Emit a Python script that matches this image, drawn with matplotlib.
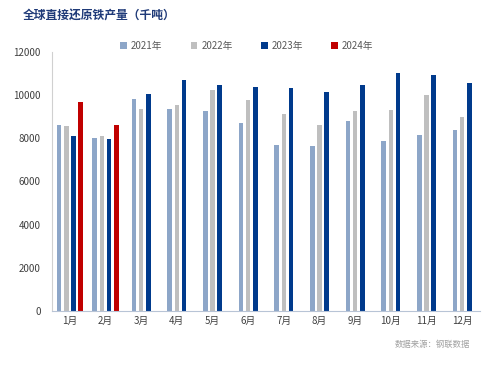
import matplotlib.pyplot as plt
import numpy as np

plt.rcParams['font.family'] = ['Noto Sans CJK SC', 'DejaVu Sans']

# Data (thousand tonnes)
months = ["1月", "2月", "3月", "4月", "5月", "6月", "7月", "8月", "9月", "10月", "11月", "12月"]
years = ["2021年", "2022年", "2023年", "2024年"]
v2021 = [8590, 8000, 9830, 9365, 9255, 8710, 7705, 7640, 8775, 7890, 8140, 8385]
v2022 = [8560, 8125, 9365, 9550, 10230, 9770, 9100, 8590, 9270, 9315, 9985, 8990]
v2023 = [8125, 7970, 10060, 10680, 10450, 10390, 10340, 10140, 10480, 11010, 10915, 10570]
v2024 = [9690, 8590, None, None, None, None, None, None, None, None, None, None]
colors = ["#8DA6C8", "#BFBFBF", "#003A8C", "#C00000"]

series = [v2021, v2022, v2023, v2024]

fig = plt.figure(figsize=(5, 3.65), dpi=100)
ax = fig.add_axes([0.104, 0.148, 0.856, 0.71])

pitch = 0.2
width = 0.13
x = np.arange(len(months))
for i in range(len(months)):
    present = [k for k, s in enumerate(series) if s[i] is not None]
    n = len(present)
    for j, k in enumerate(present):
        off = (j - (n - 1) / 2) * pitch
        ax.bar(x[i] + off, series[k][i], width=width, color=colors[k])

# legend handles
for k, lab in enumerate(years):
    ax.bar([0], [0], width=0, color=colors[k], label=lab)

ax.set_xlim(-0.5, 11.5)
ax.set_ylim(0, 12000)
ax.set_yticks(np.arange(0, 12001, 2000))
ax.set_xticks(x)
ax.set_xticklabels(months)
ax.tick_params(axis='both', length=0, labelsize=7, colors="#404040")
ax.tick_params(axis='y', pad=8)
for side in ["top", "right"]:
    ax.spines[side].set_visible(False)
ax.spines["left"].set_color("#D0D0D0")
ax.spines["bottom"].set_color("#B8C4D6")

leg = ax.legend(loc="upper center", bbox_to_anchor=(0.455, 1.075), ncol=4, frameon=False,
                fontsize=7, handlelength=0.7, handleheight=0.7, columnspacing=2.9,
                handletextpad=0.4, labelcolor="#595959")

fig.text(0.046, 0.955, "全球直接还原铁产量（千吨）", fontsize=8.5, fontweight="bold",
         color="#1F3A78", va="center")
fig.text(0.94, 0.055, "数据来源：钢联数据", fontsize=6, color="#A0A0A0", ha="right", va="center")

fig.savefig("out.png", dpi=100)
